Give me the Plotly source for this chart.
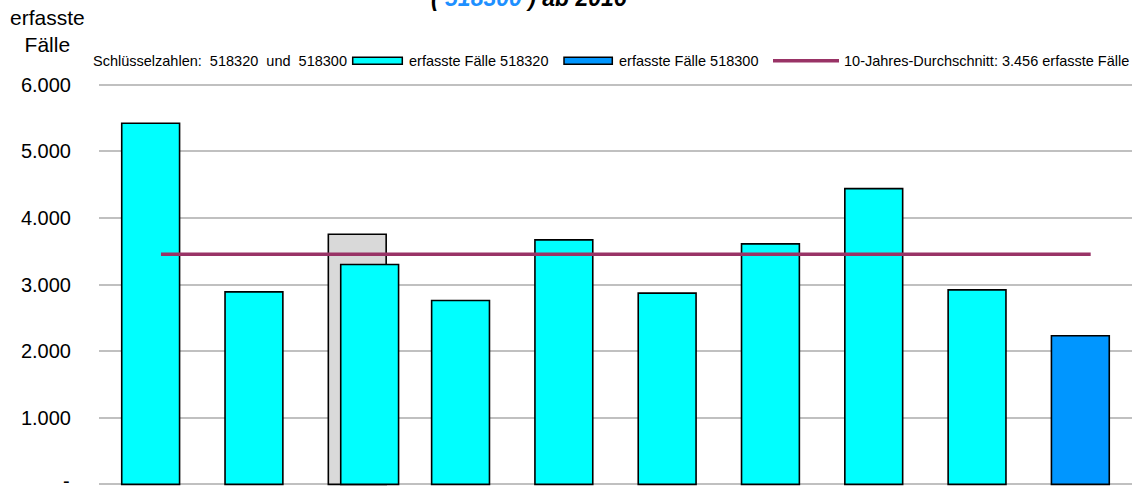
import plotly.graph_objects as go

# categories (years are not shown in the cropped picture)
jahre = ["2014", "2015", "2016", "2017", "2018", "2019", "2020", "2021", "2022", "2023"]

# erfasste Fälle per key number
faelle_518320 = [5420, 2890, 3300, 2760, 3670, 2870, 3610, 4440, 2920, None]
faelle_518300 = [None, None, None, None, None, None, None, None, None, 2230]
# grey comparison bar behind the third bar
faelle_gesamt = [None, None, 3755, None, None, None, None, None, None, None]
durchschnitt = 3456

ytick_vals = [0, 1000, 2000, 3000, 4000, 5000, 6000]
ytick_text = ["-", "1.000", "2.000", "3.000", "4.000", "5.000", "6.000"]

FONT = "Liberation Sans, Arial, sans-serif"
CYAN = "#00FFFF"
BLAU = "#0096FF"
GRAU = "#D9D9D9"
LILA = "#993366"

# plot area in pixels, used to place the hand-drawn legend
L, T, W, H = 99, 83.0, 1033, 403.0


def px_x(x):
    return (x - L) / W


def px_y(y):
    return (T + H - y) / H


bar_w = 0.56
offsets = [-bar_w / 2] * len(jahre)
offsets[2] = -0.16  # third bar shifted right over the grey one

fig = go.Figure()
fig.add_trace(go.Bar(
    x=jahre, y=faelle_gesamt, width=bar_w, offset=-bar_w / 2,
    marker=dict(color=GRAU, line=dict(color="black", width=1.6)),
    showlegend=False,
))
fig.add_trace(go.Bar(
    x=jahre, y=faelle_518320, width=bar_w, offset=offsets,
    marker=dict(color=CYAN, line=dict(color="black", width=1.6)),
    showlegend=False,
))
fig.add_trace(go.Bar(
    x=jahre, y=faelle_518300, width=bar_w, offset=-bar_w / 2,
    marker=dict(color=BLAU, line=dict(color="black", width=1.6)),
    showlegend=False,
))
fig.add_trace(go.Scatter(
    x=jahre, y=[durchschnitt] * len(jahre), xaxis="x2",
    mode="lines", line=dict(color=LILA, width=3.5),
    showlegend=False,
))

tick_font = dict(size=20, family=FONT, color="black")

fig.update_layout(
    width=1138, height=491,
    margin=dict(l=L, r=1138 - L - W, t=T, b=491 - T - H),
    paper_bgcolor="white", plot_bgcolor="white",
    barmode="overlay",
    font=dict(family=FONT, color="black"),
    xaxis=dict(showticklabels=False, showgrid=False, zeroline=False,
               range=[-0.5, 9.5], fixedrange=True, automargin=False),
    xaxis2=dict(overlaying="x", showticklabels=False, showgrid=False,
                zeroline=False, range=[-0.6, 9.4], automargin=False),
    # a little headroom so the 0 and 6.000 grid lines are not culled at the edges
    yaxis=dict(range=[-25, 6025], tickvals=ytick_vals,
               ticktext=[""] + ytick_text[1:],
               showgrid=True, gridcolor="#C0C0C0", gridwidth=1.5,
               zeroline=False, ticklabelstandoff=27, automargin=False,
               tickfont=tick_font),
)

# the "-" label for zero sits on the bottom edge; draw it a touch higher
fig.add_annotation(xref="paper", yref="y", x=px_x(L - 27), y=ytick_vals[0],
                   text=ytick_text[0], showarrow=False, font=tick_font,
                   xanchor="right", yanchor="middle", yshift=3)

# axis title top-left
fig.add_annotation(xref="paper", yref="paper", x=px_x(47), y=px_y(30.5),
                   text="erfasste<br>Fälle", showarrow=False,
                   font=dict(size=21, family=FONT), align="center",
                   xanchor="center", yanchor="middle")

# cut-off title line
fig.add_annotation(xref="paper", yref="paper", x=px_x(528.5), y=px_y(-2),
                   text="<b><i>( <span style='color:#1E90FF'>518300</span> ) ab 2016</i></b>",
                   showarrow=False, font=dict(size=23, family=FONT),
                   xanchor="center", yanchor="middle")

# legend row (Excel-style wide rectangles)
leg_y = px_y(60.7)
leg_font = dict(size=14.5, family=FONT, color="black")
fig.add_annotation(xref="paper", yref="paper", x=px_x(93), y=leg_y,
                   text="Schlüsselzahlen:  518320  und  518300", showarrow=False,
                   font=leg_font, xanchor="left", yanchor="middle", xshift=-2)
for x0, x1, col in [(352.7, 402.3, CYAN), (564, 612.3, BLAU)]:
    fig.add_shape(type="rect", xref="paper", yref="paper",
                  x0=px_x(x0), x1=px_x(x1), y0=px_y(64.3), y1=px_y(57.3),
                  fillcolor=col, line=dict(color="black", width=1.5))
fig.add_shape(type="line", xref="paper", yref="paper",
              x0=px_x(773), x1=px_x(839), y0=leg_y, y1=leg_y,
              line=dict(color=LILA, width=3.5))
for x, txt in [(409, "erfasste Fälle 518320"), (619, "erfasste Fälle 518300"),
               (844, "10-Jahres-Durchschnitt: 3.456 erfasste Fälle")]:
    fig.add_annotation(xref="paper", yref="paper", x=px_x(x), y=leg_y,
                       text=txt, showarrow=False, font=leg_font,
                       xanchor="left", yanchor="middle", xshift=-2)

# the page is photographed at exactly the figure size: drop the body margin
fig.write_html("out.html", config={"displayModeBar": False},
               post_script="document.body.style.margin='0';")
